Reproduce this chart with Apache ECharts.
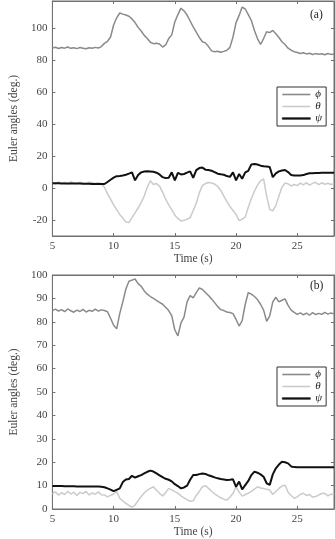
<!DOCTYPE html>
<html lang="en">
<head>
<meta charset="UTF-8">
<title>Euler angles</title>
<script src="https://cdn.jsdelivr.net/npm/echarts@6/dist/echarts.min.js"></script>
<style>
  html, body { margin: 0; padding: 0; background: #fff; }
  #main { width: 335px; height: 539px; }
</style>
</head>
<body>
<div id="main"></div>
<script>
// time (s), shared by both panels
var time = [
  5, 5.25, 5.5, 5.75, 6, 6.25, 6.5, 6.75, 7, 7.25, 7.5, 7.75, 8, 8.25, 8.5, 8.75, 9,
  9.25, 9.5, 9.75, 10, 10.25, 10.5, 10.75, 11, 11.25, 11.5, 11.75, 12, 12.25, 12.5, 12.75, 13, 13.25, 13.5, 13.75, 14,
  14.25, 14.5, 14.75, 15, 15.25, 15.5, 15.75, 16, 16.25, 16.5, 16.75, 17, 17.25, 17.5, 17.75, 18, 18.25, 18.5, 18.75, 19,
  19.25, 19.5, 19.75, 20, 20.25, 20.5, 20.75, 21, 21.25, 21.5, 21.75, 22, 22.25, 22.5, 22.75, 23, 23.25, 23.5, 23.75, 24,
  24.25, 24.5, 24.75, 25, 25.25, 25.5, 25.75, 26, 26.25, 26.5, 26.75, 27, 27.25, 27.5, 27.75, 28
];

// panel (a)
var phiA = [
  87.6, 88.1, 87.3, 87.9, 87.5, 88.2, 87.4, 87.8, 87.2, 87.9, 87.5, 87.1, 87.8, 87.4, 88.0, 87.6, 88.5,
  90.5, 91.8, 94.5, 102, 106.5, 109.5, 108.8, 108.2, 107.5, 105.8, 103.5, 100.5, 98.2, 95.5, 93.5, 91.2, 90.3, 90.6, 90.1, 88.2,
  89.5, 93.5, 95.8, 104, 108.5, 112.5, 110.8, 108.2, 104.5, 100.8, 97.5, 94.2, 91.5, 90.8, 88.5, 85.8, 85.2, 85.6, 84.9, 85.5,
  86.2, 88.0, 94.5, 103.5, 108, 113.2, 112.0, 108.5, 104.8, 98.5, 93.5, 89.8, 93.5, 97.8, 97.2, 98.6, 96.5, 94.2, 91.5, 89.8,
  87.5, 86.2, 85.3, 84.8, 84.2, 84.6, 83.9, 84.3, 83.5, 84.1, 83.7, 84.0, 83.4, 84.2, 83.6, 83.9
];
var thetaA = [
  3.2, 2.5, 3.8, 2.9, 3.5, 2.4, 3.9, 3.1, 2.6, 3.7, 3.0, 2.7, 3.6, 3.3, 2.8, 3.4, 2.5,
  0.5, -3.5, -7, -10.5, -13.5, -16.5, -18.8, -21.2, -21.6, -18.5, -15.5, -12.5, -9, -5, 0.5, 4.5, 2.2, 2.8, 1.2, -2.5,
  -7, -10.5, -13.5, -17, -19, -20.6, -20.2, -19.5, -18.5, -14, -9.5, -3, 1.5, 2.8, 3.5, 3.2, 2.5, 1.0, -1.5, -5,
  -8.5, -11.5, -14, -16.5, -20.4, -19.5, -18.2, -12, -6.5, -2, 1.8, 4.5, 5.8, -5, -13.5, -14.2, -11, -5, 0.5, 3.2,
  2.6, 1.3, 2.2, 1.5, 3.1, 2.0, 3.4, 1.8, 2.9, 3.6, 2.1, 3.3, 2.4, 3.0, 2.2, 2.8
];
var psiA = [
  3.0, 3.0, 3.0, 2.9, 2.9, 2.9, 2.8, 2.8, 2.8, 2.8, 2.7, 2.7, 2.7, 2.6, 2.6, 2.6, 2.5,
  2.5, 3.8, 5.2, 6.5, 7.4, 7.6, 7.9, 8.3, 9.0, 9.8, 4.8, 8.2, 9.8, 10.3, 10.5, 10.4, 10.2, 9.6, 8.5, 6.8,
  6.2, 6.5, 9.8, 4.8, 9.5, 8.5, 8.8, 9.6, 10.4, 6.4, 11.2, 12.5, 12.8, 11.5, 11.3, 10.8, 10.0, 9.0, 8.6, 8.3,
  7.5, 7.0, 9.8, 4.8, 8.8, 5.8, 9.8, 10.8, 14.8, 15.1, 14.7, 14.0, 13.6, 13.4, 13.2, 6.8, 9.2, 10.4, 11.0, 11.3,
  10.0, 8.2, 7.8, 7.8, 7.9, 8.1, 8.8, 9.3, 9.3, 9.4, 9.4, 9.5, 9.5, 9.6, 9.6, 9.6
];

// panel (b)
var phiB = [
  84.8, 85.4, 84.6, 85.2, 84.3, 85.5, 84.7, 84.1, 85.0, 84.4, 85.3, 84.2, 84.9, 84.5, 85.4, 84.6, 85.1,
  84.8, 84.3, 81.5, 78.5, 77.0, 83.5, 88.5, 94.0, 97.3, 97.8, 98.3, 96.3, 95.2, 93.2, 91.8, 90.8, 90.0, 89.2, 88.3, 87.5,
  86.2, 84.8, 82.5, 76.5, 74.0, 79.5, 82.0, 88.5, 91.2, 90.2, 92.5, 94.5, 93.8, 92.5, 91.2, 89.8, 88.2, 86.5, 85.2, 84.8,
  84.2, 84.0, 83.5, 81.0, 78.2, 80.5, 87.5, 92.5, 91.8, 90.8, 89.5, 87.5, 85.0, 80.2, 82.5, 88.5, 90.5, 88.5, 89.2, 89.8,
  87.0, 85.0, 84.0, 83.2, 83.8, 83.0, 83.7, 82.8, 83.9, 83.1, 83.6, 83.2, 84.0, 83.3, 83.8, 83.4
];
var thetaB = [
  6.5, 7.4, 5.9, 7.0, 6.2, 7.6, 6.4, 7.2, 5.8, 7.1, 6.6, 7.5, 6.0, 6.9, 6.3, 7.3, 6.1,
  6.0, 5.2, 5.8, 6.4, 7.4, 4.6, 3.5, 2.4, 1.5, 0.8, 1.7, 3.5, 5.3, 6.8, 8.1, 8.8, 9.5, 8.0, 6.7, 5.6,
  7.0, 8.8, 8.2, 7.4, 6.8, 5.6, 4.8, 4.0, 3.3, 3.5, 5.8, 7.5, 9.5, 10.0, 8.8, 7.6, 6.5, 5.6, 4.8, 4.2,
  3.8, 5.0, 6.7, 9.5, 7.2, 5.5, 6.2, 6.7, 7.5, 8.5, 9.5, 9.0, 8.8, 8.4, 8.1, 6.2, 7.5, 8.8, 9.8, 10.2,
  7.2, 5.8, 4.6, 5.2, 6.3, 6.7, 5.8, 6.2, 5.1, 5.3, 6.0, 6.6, 6.7, 5.6, 6.4, 6.0
];
var psiB = [
  9.8, 9.8, 9.8, 9.8, 9.7, 9.7, 9.7, 9.7, 9.6, 9.6, 9.6, 9.6, 9.6, 9.6, 9.6, 9.6, 9.5,
  9.3, 8.8, 8.3, 7.6, 8.2, 8.8, 11.5, 12.6, 12.8, 14.2, 13.4, 14.0, 14.5, 15.2, 15.9, 16.4, 16.0, 15.2, 14.4, 13.6,
  12.9, 12.5, 11.8, 10.6, 9.8, 8.8, 9.2, 10.0, 12.5, 14.5, 14.5, 14.9, 15.2, 15.0, 14.4, 14.0, 13.5, 13.1, 12.8, 12.6,
  12.4, 12.5, 12.7, 9.5, 11.7, 8.4, 10.2, 12.0, 14.5, 16.0, 15.5, 14.8, 13.8, 11.0, 10.3, 14.8, 17.4, 19.0, 20.2, 20.0,
  19.5, 18.2, 17.9, 17.8, 17.8, 17.8, 17.8, 17.8, 17.8, 17.8, 17.8, 17.8, 17.8, 17.8, 17.8, 17.8
];

var yTicksA = [-20, 0, 20, 40, 60, 80, 100];
var names = ['\u03D5', '\u03B8', '\u03C8'];

var font = 'Liberation Serif';
var frame = '#707070';
var textColor = '#444';
var colors = ['#8a8a8a', '#cbcbcb', '#111111'];

function pairs(v) {
    var out = [];
    for (var i = 0; i < time.length; i++) out.push([time[i], v[i]]);
    return out;
}

function xAx(grid, pos, gap) {
    return {
        type: 'value', gridIndex: grid, position: pos, min: 5, max: 28, interval: 5,
        axisLine: { show: true, onZero: false, lineStyle: { color: frame, width: 1 } },
        axisTick: { show: true, inside: true, length: 3, lineStyle: { color: frame } },
        axisLabel: { show: pos === 'bottom', margin: 5, fontSize: 11, color: textColor, fontFamily: font,
                     showMaxLabel: false },
        splitLine: { show: false },
        name: pos === 'bottom' ? 'Time (s)' : '',
        nameLocation: 'middle', nameGap: gap,
        nameTextStyle: { fontSize: 11.5, color: textColor, fontFamily: font }
    };
}

function yAx(grid, pos, lo, hi, step, custom) {
    var a = {
        type: 'value', gridIndex: grid, position: pos, min: lo, max: hi,
        axisLine: { show: true, onZero: false, lineStyle: { color: frame, width: 1 } },
        axisTick: { show: true, inside: true, length: 3, lineStyle: { color: frame } },
        axisLabel: { show: pos === 'left', margin: 5, fontSize: 11, color: textColor, fontFamily: font },
        splitLine: { show: false },
        name: pos === 'left' ? 'Euler angles (deg.)' : '',
        nameLocation: 'middle', nameGap: 27,
        nameTextStyle: { fontSize: 11.5, color: textColor, fontFamily: font }
    };
    if (custom) {
        a.axisLabel.customValues = custom;
        a.axisTick.customValues = custom;
    } else {
        a.interval = step;
    }
    return a;
}

function lines(grid, data) {
    var w = [1.5, 1.5, 2];
    var order = [1, 0, 2];
    var s = [];
    for (var k = 0; k < 3; k++) {
        s.push({
            name: names[k], type: 'line', xAxisIndex: grid * 2, yAxisIndex: grid * 2,
            data: pairs(data[k]), symbol: 'none', z: 2 + order[k],
            lineStyle: { color: colors[k], width: w[k] }, itemStyle: { color: colors[k] }
        });
    }
    return s;
}

function legend(top) {
    return {
        data: [
            { name: names[0], icon: 'rect' },
            { name: names[1], icon: 'rect' },
            { name: names[2], icon: 'rect', itemStyle: { borderColor: colors[2], borderWidth: 0.6 } }
        ],
        orient: 'vertical', left: 277, top: top,
        itemWidth: 28, itemHeight: 1.6, itemGap: 1, padding: [2, 4, 2, 5],
        borderColor: '#333', borderWidth: 1, backgroundColor: '#fff',
        textStyle: { fontFamily: font, fontStyle: 'italic', fontSize: 11, color: '#222', lineHeight: 11 },
        selectedMode: false
    };
}

var chart = echarts.init(document.getElementById('main'));
chart.setOption({
    animation: false,
    grid: [
        { left: 35, top: 1, width: 299, height: 235, show: true, borderColor: frame, borderWidth: 1 },
        { left: 35, top: 275, width: 299, height: 234, show: true, borderColor: frame, borderWidth: 1 }
    ],
    xAxis: [xAx(0, 'bottom', 16), xAx(0, 'top', 0), xAx(1, 'bottom', 17), xAx(1, 'top', 0)],
    yAxis: [
        yAx(0, 'left', -30, 117, 20, yTicksA), yAx(0, 'right', -30, 117, 20, yTicksA),
        yAx(1, 'left', 0, 100, 10), yAx(1, 'right', 0, 100, 10)
    ],
    legend: [legend(87), legend(367)],
    graphic: [
        { type: 'text', left: 310, top: 9, style: { text: '(a)', font: '11.5px "Liberation Serif"', fill: '#222' } },
        { type: 'text', left: 310, top: 280, style: { text: '(b)', font: '11.5px "Liberation Serif"', fill: '#222' } }
    ],
    series: lines(0, [phiA, thetaA, psiA]).concat(lines(1, [phiB, thetaB, psiB]))
});
</script>
</body>
</html>
